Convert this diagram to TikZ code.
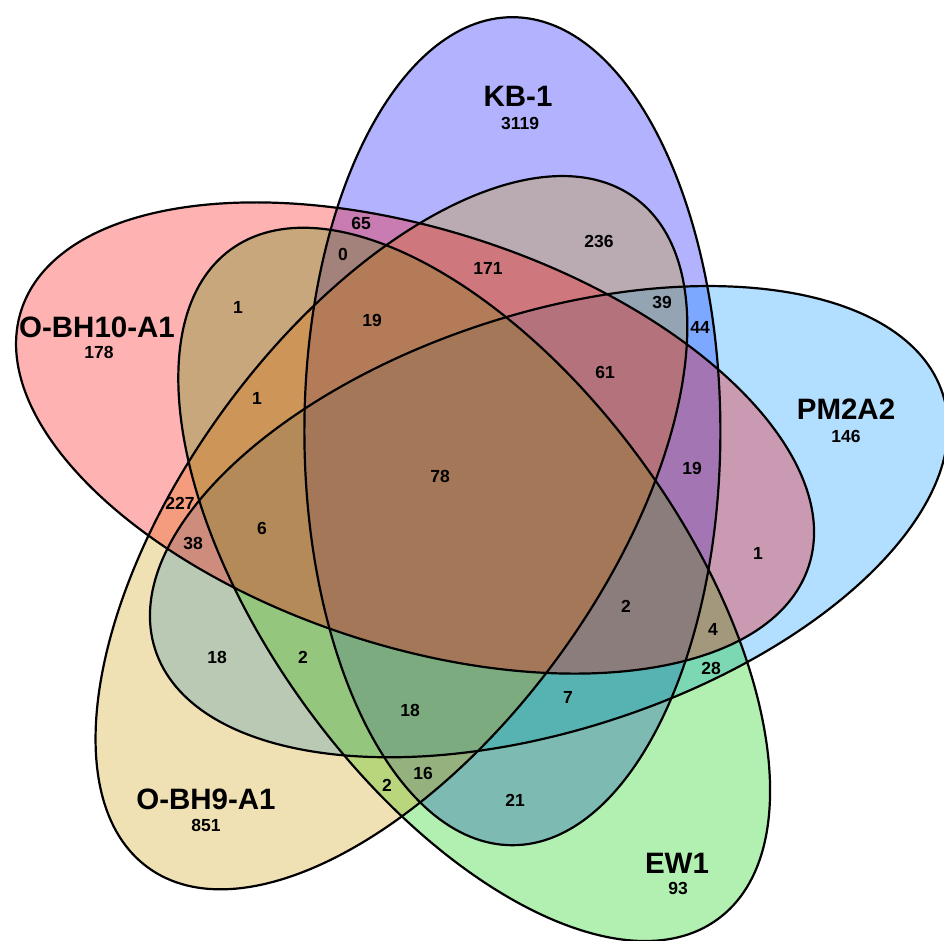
\documentclass[tikz,border=0pt]{standalone}
\usepackage{fontspec}
\setmainfont{Liberation Sans}
\definecolor{cKB}{RGB}{0,0,255}
\definecolor{cPM}{RGB}{0,145,255}
\definecolor{cEW}{RGB}{0,205,0}
\definecolor{cBHnine}{RGB}{205,155,5}
\definecolor{cBHten}{RGB}{255,0,0}
\begin{document}
\begin{tikzpicture}[x=1pt,y=1pt,
  % each set: ellipse placed on a circle around the common centre
  setpos/.style={shift={(468.4,439.4)}, rotate=#1, shift={(83,0)}, rotate=32},
  setfill/.style={fill=#1, fill opacity=0.3},
  setline/.style={draw=black, line width=2.2pt},
  setname/.style={inner sep=0pt, font=\fontsize{29.5}{29.5}\selectfont\bfseries},
  setcount/.style={inner sep=0pt, font=\fontsize{17.5}{17.5}\selectfont\bfseries},
  cnt/.style={inner sep=0pt, font=\fontsize{17.5}{17.5}\selectfont\bfseries}]
\useasboundingbox (0,0) rectangle (944,941);

% fills, bottom to top
\fill[setpos=58,  setfill=cKB]     (0,0) ellipse [x radius=414, y radius=208];
\fill[setpos=-14, setfill=cPM]     (0,0) ellipse [x radius=414, y radius=208];
\fill[setpos=-86, setfill=cEW]     (0,0) ellipse [x radius=414, y radius=208];
\fill[setpos=-158,setfill=cBHnine] (0,0) ellipse [x radius=414, y radius=208];
\fill[setpos=130, setfill=cBHten]  (0,0) ellipse [x radius=414, y radius=208];

% outlines
\foreach \a in {58,-14,-86,-158,130}
  \draw[setpos=\a, setline] (0,0) ellipse [x radius=414, y radius=208];

% set names and totals
\node[setname]  (nKB)   at (518,845) {KB-1};
\node[setcount] (tKB)   at (520,817) {3119};
\node[setname]  (nBHten) at (97,614) {O-BH10-A1};
\node[setcount] (tBHten) at (99,589) {178};
\node[setname]  (nPM)   at (846,532) {PM2A2};
\node[setcount] (tPM)   at (846,505) {146};
\node[setname]  (nBHnine) at (206,142) {O-BH9-A1};
\node[setcount] (tBHnine) at (206,116) {851};
\node[setname]  (nEW)   at (677,78) {EW1};
\node[setcount] (tEW)   at (678,53) {93};

% region counts
\node[cnt] (r01) at (361,718) {65};
\node[cnt] (r02) at (343,687) {0};
\node[cnt] (r03) at (599,699) {236};
\node[cnt] (r04) at (488,673) {171};
\node[cnt] (r05) at (238,634) {1};
\node[cnt] (r06) at (372,621) {19};
\node[cnt] (r07) at (662,638) {39};
\node[cnt] (r08) at (700,614) {44};
\node[cnt] (r09) at (605,569) {61};
\node[cnt] (r10) at (257,543) {1};
\node[cnt] (r11) at (692,473) {19};
\node[cnt] (r12) at (440,465) {78};
\node[cnt] (r13) at (180,438) {227};
\node[cnt] (r14) at (193,398) {38};
\node[cnt] (r15) at (262,413) {6};
\node[cnt] (r16) at (758,388) {1};
\node[cnt] (r17) at (626,335) {2};
\node[cnt] (r18) at (713,312) {4};
\node[cnt] (r19) at (217,284) {18};
\node[cnt] (r20) at (303,284) {2};
\node[cnt] (r21) at (711,273) {28};
\node[cnt] (r22) at (568,244) {7};
\node[cnt] (r23) at (410,231) {18};
\node[cnt] (r24) at (423,168) {16};
\node[cnt] (r25) at (387,156) {2};
\node[cnt] (r26) at (515,141) {21};
\end{tikzpicture}
\end{document}
